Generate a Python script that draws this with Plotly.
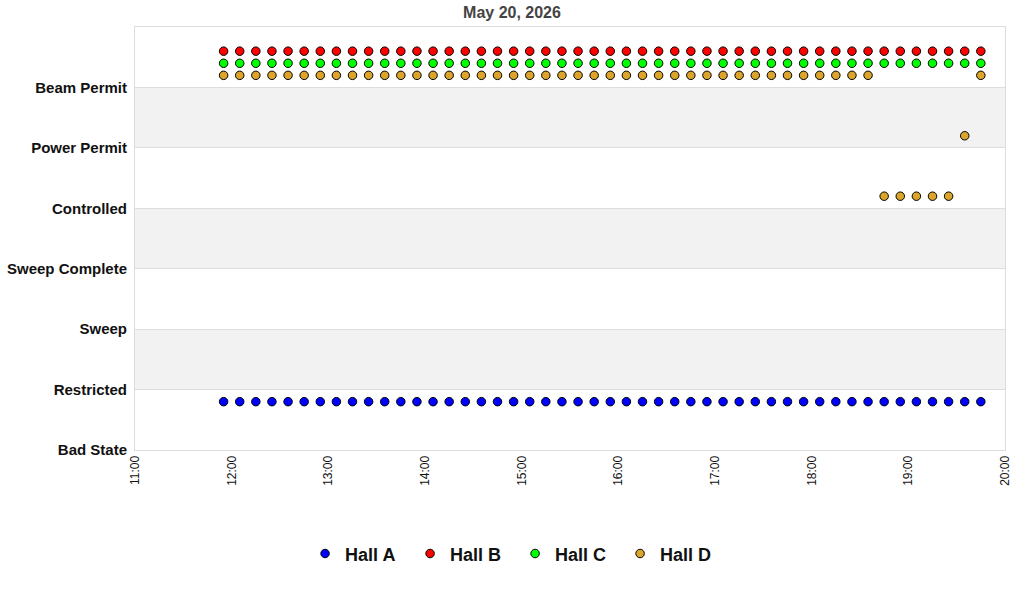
import pandas as pd
import plotly.graph_objects as go

# state names, bottom to top
states = ['Bad State', 'Restricted', 'Sweep', 'Sweep Complete',
          'Controlled', 'Power Permit', 'Beam Permit']

# samples every 10 minutes
times = pd.date_range('2026-05-20 11:55', '2026-05-20 19:45', freq='10min')

hall_a_states = ['Bad State'] * 48
hall_b_states = ['Beam Permit'] * 48
hall_c_states = ['Beam Permit'] * 48
hall_d_states = (['Beam Permit'] * 41 + ['Controlled'] * 5
                 + ['Power Permit'] + ['Beam Permit'])

hall_names = ['Hall A', 'Hall B', 'Hall C', 'Hall D']
hall_offsets = [0.8, 0.6, 0.4, 0.2]
hall_colors = ['#0000ff', '#ff0000', '#00ff00', '#daa52a']
hall_states = [hall_a_states, hall_b_states, hall_c_states, hall_d_states]

fig = go.Figure()

for name, offset, color, st in zip(hall_names, hall_offsets,
                                   hall_colors, hall_states):
    y = [states.index(s) + offset for s in st]
    fig.add_trace(go.Scatter(
        x=times, y=y, mode='markers', name='<b>' + name + '</b>',
        marker=dict(color=color, size=8.5, symbol='circle',
                    line=dict(color='black', width=1))
    ))

# alternating grey bands
for k in (1, 3, 5):
    fig.add_shape(type='rect', xref='x domain', yref='y',
                  x0=0, x1=1, y0=k, y1=k + 1,
                  fillcolor='#f2f2f2', line_width=0, layer='below')

fig.update_layout(
    width=1024, height=600,
    plot_bgcolor='white', paper_bgcolor='white',
    margin=dict(l=135, r=19, t=27, b=150),
    font=dict(family='Liberation Sans, Arial, sans-serif', color='#111'),
    title=dict(text='<b>May 20, 2026</b>', xref='container', x=0.5,
               xanchor='center', yref='container', y=0.98, yanchor='middle',
               font=dict(size=16, color='#444')),
    legend=dict(orientation='h', xref='container', x=0.503,
                xanchor='center', yref='container', y=0.077,
                yanchor='middle', font=dict(size=18, color='#111'),
                itemsizing='trace', itemwidth=30,
                entrywidth=60, entrywidthmode='pixels',
                traceorder='normal'),
    xaxis=dict(range=['2026-05-20 11:00', '2026-05-20 20:00'],
               tickformat='%H:%M', dtick=3600000, tickangle=-90,
               showgrid=False, showline=True, linecolor='#dddddd',
               mirror=True, ticks='', zeroline=False, automargin=False,
               tickfont=dict(size=12, color='#111')),
    yaxis=dict(range=[0, 7], tickvals=list(range(len(states))),
               ticktext=['<b>' + s + '</b>' for s in states],
               showgrid=True, gridcolor='#dddddd', gridwidth=1,
               showline=True, linecolor='#dddddd', mirror=True,
               zeroline=False, ticks='', ticklabelstandoff=4,
               automargin=False,
               tickfont=dict(size=15, color='#111'))
)

# drop the default body margin so the figure sits at the window corner
fig.write_html('out.html', config={'displayModeBar': False},
               post_script="document.body.style.margin='0px';")
